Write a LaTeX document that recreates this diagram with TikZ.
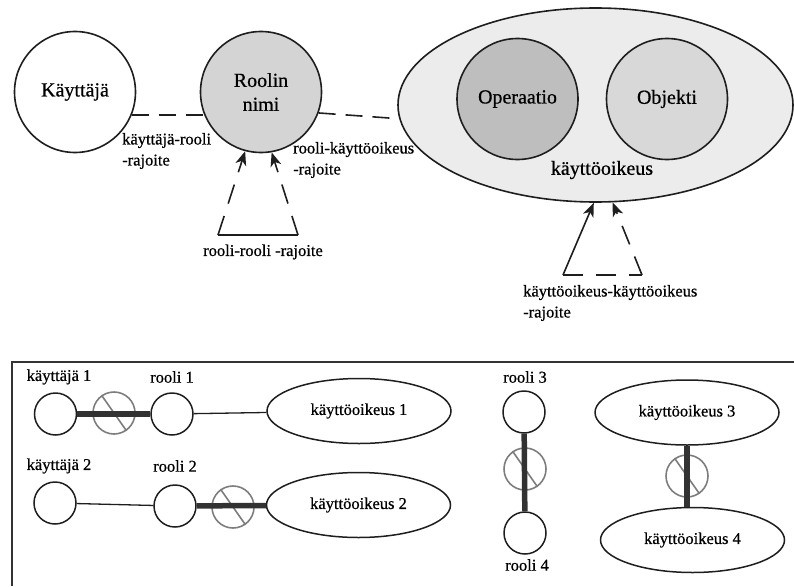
\documentclass[tikz,border=0pt]{standalone}
\usepackage{fontspec}
\setmainfont{Liberation Serif}[FakeBold=0.6]
\usetikzlibrary{arrows.meta,shapes.geometric}
\definecolor{roolfill}{RGB}{212,212,212}
\definecolor{opfill}{RGB}{190,190,190}
\definecolor{objfill}{RGB}{216,216,216}
\definecolor{ellfill}{RGB}{236,236,236}
\definecolor{ink}{RGB}{30,30,30}
\definecolor{prohgray}{RGB}{125,125,125}
\definecolor{barcol}{RGB}{50,50,50}
\begin{document}
\begin{tikzpicture}[x=1pt,y=-1pt,
  bigc/.style={circle, draw=ink, line width=1.6pt, inner sep=0pt, minimum size=121pt, align=center, font=\fontsize{20}{24}\selectfont},
  smallc/.style={circle, draw=ink, line width=1.5pt, minimum size=42pt, inner sep=0pt},
  prohc/.style={circle, draw=prohgray, line width=1.6pt, minimum size=42pt, inner sep=0pt},
  prohs/.style={draw=prohgray, line width=1.6pt},
  oval/.style={ellipse, draw=ink, line width=1.5pt, minimum width=184pt, minimum height=65pt, inner sep=0pt, font=\fontsize{16.5}{20}\selectfont},
  lbl/.style={inner sep=0pt, font=\fontsize{16.5}{21}\selectfont},
  biglbl/.style={inner sep=0pt, font=\fontsize{20}{24}\selectfont},
  bar/.style={line width=5.5pt, draw=barcol},
  thin/.style={line width=1.3pt, draw=ink},
  dsh/.style={line width=1.6pt, draw=ink, dash pattern=on 17pt off 10pt},
  dshs/.style={line width=1.6pt, draw=ink, dash pattern=on 20pt off 13pt},
  tip/.style={-{Stealth[length=14pt,width=11pt,inset=4pt]}},
  frame/.style={line width=1.8pt, draw=black!80}
]
\useasboundingbox (0,0) rectangle (794,586);

% ---------- top part ----------
\node[ellipse, draw=ink, line width=1.6pt, fill=ellfill, minimum width=395pt, minimum height=194pt, inner sep=0pt] (perm) at (595.5,105) {};
\node[bigc, fill=opfill] (op) at (517.5,99) {Operaatio};
\node[bigc, fill=objfill] (obj) at (667,99) {Objekti};
\node[biglbl] (permlbl) at (602,170) {käyttöoikeus};

\node[bigc, fill=white] (kay) at (75,92) {Käyttäjä};
\node[bigc, fill=roolfill] (rol) at (261,92) {Roolin\\nimi};

\draw[dsh] (kay.-22) -- (rol.202);
\draw[dsh] (rol.-20) -- (perm.184);

\node[lbl, align=left, anchor=west] (l1) at (122,151) {käyttäjä-rooli\\-rajoite};
\node[lbl, align=left, anchor=west] (l2) at (293,160) {rooli-käyttöoikeus\\-rajoite};

% role-role constraint
\coordinate (rrA) at (218,235);
\coordinate (rrB) at (298,235);
\draw[thin, line width=1.6pt] (rrA) -- (rrB);
\draw[dshs, tip] (rrA) -- (rol.-105);
\draw[dshs, tip] (rrB) -- (rol.-80);
\node[lbl] (l3) at (263,252) {rooli-rooli -rajoite};

% permission-permission constraint
\coordinate (ppA) at (563,275);
\coordinate (ppB) at (642,275);
\draw[line width=1.6pt, draw=ink, tip] (ppA) -- (perm.-91.5);
\draw[dshs, tip] (ppB) -- (perm.-80);
\draw[dshs] (ppA) -- (ppB);
\node[lbl, align=left, anchor=west] (l4) at (523,303) {käyttöoikeus-käyttöoikeus\\-rajoite};

% ---------- bottom part ----------
\draw[frame] (12,586) -- (12,362) -- (794,362);

% row 1
\node[lbl] (tk1) at (59,377) {käyttäjä 1};
\node[lbl] (tr1) at (172,377) {rooli 1};
\node[smallc] (k1) at (55.5,414) {};
\node[prohc] (p1) at (114,413) {};
\draw[prohs] (p1.125) -- (p1.-55);
\node[smallc] (r1) at (172,414) {};
\node[oval] (o1) at (359,411) {käyttöoikeus 1};
\draw[bar] (k1) -- (r1);
\draw[thin] (r1) -- (o1);

% row 2
\node[lbl] (tk2) at (59,466) {käyttäjä 2};
\node[lbl] (tr2) at (175,466) {rooli 2};
\node[smallc] (k2) at (55,503) {};
\node[smallc] (r2) at (175,506) {};
\node[prohc] (p2) at (233,507) {};
\draw[prohs] (p2.125) -- (p2.-55);
\node[oval] (o2) at (358.5,505) {käyttöoikeus 2};
\draw[thin] (k2) -- (r2);
\draw[bar] (r2) -- (o2);

% column 3
\node[lbl] (tr3) at (525,377) {rooli 3};
\node[smallc] (r3) at (524,412) {};
\node[prohc] (p3) at (525,469) {};
\draw[prohs] (p3.125) -- (p3.-55);
\node[smallc] (r4) at (525,533) {};
\node[lbl] (tr4) at (527,565) {rooli 4};
\draw[bar] (r3) -- (r4);

% column 4
\node[oval] (o3) at (687,412.5) {käyttöoikeus 3};
\node[prohc] (p4) at (687,476) {};
\draw[prohs] (p4.125) -- (p4.-55);
\node[oval] (o4) at (692.5,540) {käyttöoikeus 4};
\draw[bar] (o3.south) -- (o3.south |- o4.north);
\end{tikzpicture}
\end{document}
